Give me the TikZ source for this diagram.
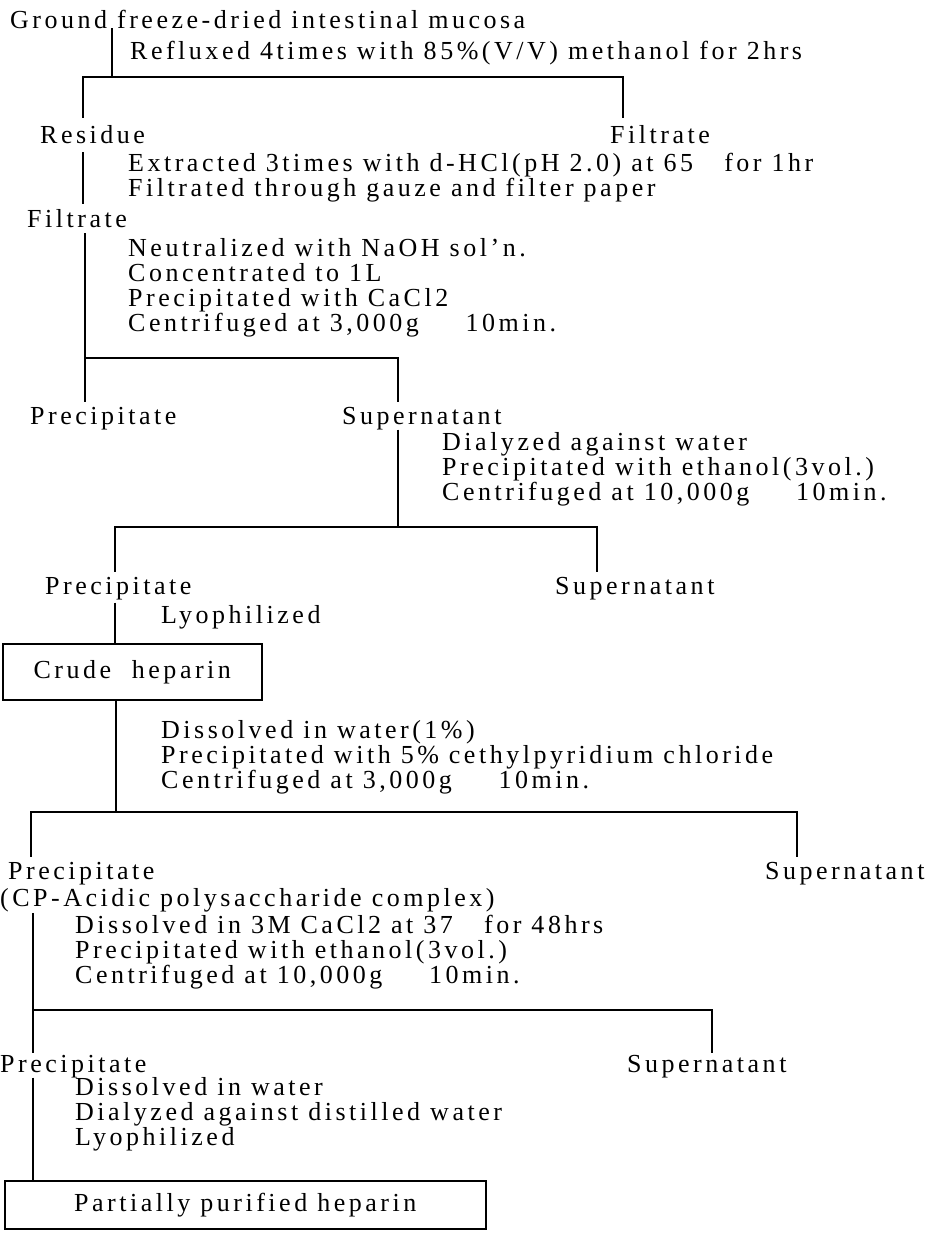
\documentclass[tikz,border=0pt]{standalone}
\usepackage{fontspec}
\setmainfont{Liberation Serif}[LetterSpace=13.5]
\usetikzlibrary{positioning}

\begin{document}
\begin{tikzpicture}[x=1pt, y=-1pt,
    lbl/.style={anchor=base west, inner sep=0pt, font=\fontsize{26}{25}\selectfont},
    steps/.style={lbl, anchor=north west, align=left},
    wire/.style={line width=1.5pt},
    product/.style={draw, line width=1.5pt, anchor=north west, inner sep=0pt, font=\fontsize{26}{25}\selectfont}
]
\useasboundingbox (0,0) rectangle (945,1235);

% Starting material
\node[lbl] (mucosa) at (10,28) {Ground freeze-dried intestinal mucosa};
\node[steps] (reflux) at (130,40.5) {Refluxed 4times with 85\%(V/V) methanol for 2hrs};

% First separation
\node[lbl] (residue) at (40,143) {Residue};
\node[lbl] (filt1) at (610,143) {Filtrate};
\node[steps] (extract) at (128,152.5) {Extracted 3times with d-HCl(pH 2.0) at 65\hspace{1.2em}for 1hr\\
    Filtrated through gauze and filter paper};
\node[lbl] (filt2) at (27,227) {Filtrate};
\node[steps] (neutral) at (128,238.5) {Neutralized with NaOH sol'n.\\
    Concentrated to 1L\\
    Precipitated with CaCl2\\
    Centrifuged at 3,000g\hspace{1.8em}10min.};

% Second separation
\node[lbl] (prec1) at (30,424) {Precipitate};
\node[lbl] (sup1) at (342,424) {Supernatant};
\node[steps] (dialyze) at (442,432.5) {Dialyzed against water\\
    Precipitated with ethanol(3vol.)\\
    Centrifuged at 10,000g\hspace{1.8em}10min.};

% Third separation
\node[lbl] (prec2) at (45,594) {Precipitate};
\node[lbl] (sup2) at (555,594) {Supernatant};
\node[steps] (lyo1) at (161,605.5) {Lyophilized};
\node[product, minimum width=259pt, minimum height=56pt] (crude) at (2,643) {Crude\hspace{0.8em}heparin};
\node[steps] (cpc) at (161,720.5) {Dissolved in water(1\%)\\
    Precipitated with 5\% cethylpyridium chloride\\
    Centrifuged at 3,000g\hspace{1.8em}10min.};

% Fourth separation
\node[lbl] (prec3) at (8,879) {Precipitate};
\node[lbl] (sup3) at (765,879) {Supernatant};
\node[lbl] (complex) at (0,906) {(CP-Acidic polysaccharide complex)};
\node[steps] (cacl) at (75,914.5) {Dissolved in 3M CaCl2 at 37\hspace{1.2em}for 48hrs\\
    Precipitated with ethanol(3vol.)\\
    Centrifuged at 10,000g\hspace{1.8em}10min.};

% Fifth separation
\node[lbl] (prec4) at (0,1072) {Precipitate};
\node[lbl] (sup4) at (627,1072) {Supernatant};
\node[steps] (final) at (75,1077.5) {Dissolved in water\\
    Dialyzed against distilled water\\
    Lyophilized};
\node[product, minimum width=481pt, minimum height=48pt] (purified) at (4,1180) {Partially purified heparin};

% Branch points
\coordinate (b1) at (112,77);
\coordinate (b1l) at (83,77);
\coordinate (b1r) at (623,77);
\coordinate (b2l) at (85,358);
\coordinate (b2r) at (398,358);
\coordinate (b3l) at (115,527);
\coordinate (b3r) at (597,527);
\coordinate (b4m) at (116,812);
\coordinate (b4l) at (31,812);
\coordinate (b4r) at (797,812);
\coordinate (b5l) at (33,1010);
\coordinate (b5r) at (712,1010);

% Connectors
\draw[wire] (mucosa.south -| b1) -- (b1);
\draw[wire] ([yshift=7pt]residue.north -| b1l) -- (b1l) -- (b1r) -- ([yshift=7pt]filt1.north -| b1r);
\draw[wire] ([yshift=-9pt]residue.south -| b1l) -- ([yshift=5pt]filt2.north -| b1l);
\draw[wire] ([yshift=-6pt]filt2.south -| b2l) -- (b2l) -- (b2r) -- ([yshift=5pt]sup1.north -| b2r);
\draw[wire] ([yshift=5pt]prec1.north -| b2l) -- (b2l);
\draw[wire] (sup1.south -| b2r) -- (b3l -| b2r);
\draw[wire] ([yshift=5pt]prec2.north -| b3l) -- (b3l) -- (b3r) -- ([yshift=5pt]sup2.north -| b3r);
\draw[wire] ([yshift=-3pt]prec2.south -| b3l) -- (crude.north -| b3l);
\draw[wire] (crude.south -| b4m) -- (b4m);
\draw[wire] ([yshift=5pt]prec3.north -| b4l) -- (b4l) -- (b4r) -- ([yshift=5pt]sup3.north -| b4r);
\draw[wire] ([yshift=-1pt]complex.south -| b5l) -- ([yshift=2pt]prec4.north -| b5l);
\draw[wire] (b5l) -- (b5r) -- ([yshift=2pt]sup4.north -| b5r);
\draw[wire] (prec4.south -| b5l) -- (purified.north -| b5l);

\end{tikzpicture}
\end{document}
